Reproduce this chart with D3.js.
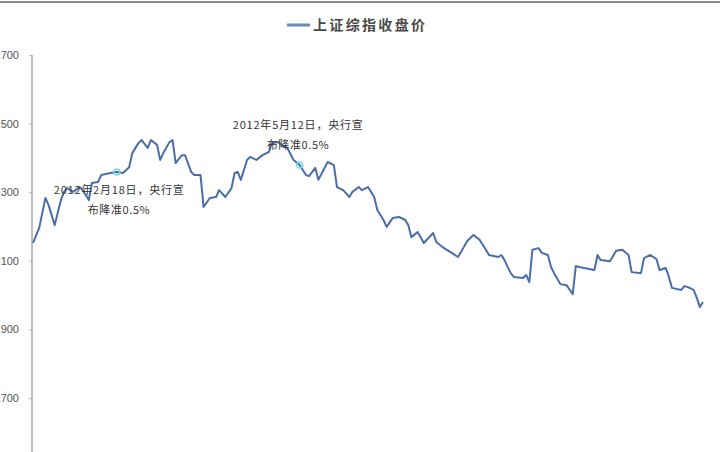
<!DOCTYPE html>
<html>
<head>
<meta charset="utf-8">
<script src="https://cdn.jsdelivr.net/npm/d3@7"></script>
<style>
  html, body { margin: 0; padding: 0; background: #fff; }
  #chart { width: 720px; height: 452px; overflow: hidden; }
  text { font-family: "Liberation Sans", "Noto Sans CJK SC", sans-serif; }
</style>
</head>
<body>
<div id="chart"></div>
<script>
// trading day index since start of series, and close of the index
const days = [0, 2, 4, 5, 7, 9, 10, 11, 13, 15, 16, 18, 19, 21, 22, 25, 27, 29, 31, 32,
  34, 35, 37, 38, 40, 41, 42, 44, 45, 46, 48, 49, 51, 52, 54, 55, 57, 59, 60, 62,
  64, 65, 66, 67, 69, 70, 72, 74, 76, 77, 79, 80, 82, 84, 86, 88, 89, 91, 92, 95,
  97, 98, 100, 102, 103, 105, 106, 108, 110, 111, 113, 114, 116, 118, 120, 121, 122, 124, 126, 129,
  130, 132, 135, 137, 138, 140, 142, 144, 146, 147, 150, 151, 152, 154, 155, 158, 159, 160, 161, 163,
  164, 166, 167, 168, 170, 172, 174, 175, 176, 181, 182, 183, 186, 188, 190, 192, 193, 196, 197, 199,
  201, 202, 204, 205, 206, 209, 210, 211, 213, 214, 215, 216];
const closes = [2152, 2196, 2283, 2263, 2204, 2277, 2301, 2312, 2301, 2315, 2306, 2277, 2327, 2330, 2350, 2356, 2359, 2356, 2373, 2414,
  2443, 2452, 2429, 2452, 2438, 2394, 2414, 2446, 2452, 2385, 2408, 2408, 2359, 2350, 2350, 2257, 2283, 2286, 2306, 2286,
  2312, 2356, 2359, 2336, 2394, 2403, 2394, 2408, 2417, 2443, 2446, 2438, 2429, 2394, 2379, 2350, 2347, 2371, 2336, 2388,
  2379, 2315, 2306, 2286, 2301, 2315, 2306, 2315, 2286, 2248, 2219, 2199, 2225, 2228, 2219, 2204, 2169, 2184, 2152, 2181,
  2155, 2140, 2123, 2111, 2126, 2158, 2175, 2161, 2132, 2117, 2111, 2117, 2102, 2064, 2053, 2050, 2059, 2038, 2132, 2137,
  2123, 2117, 2082, 2064, 2032, 2029, 2003, 2085, 2082, 2073, 2117, 2102, 2099, 2129, 2132, 2117, 2067, 2064, 2108, 2117,
  2105, 2073, 2079, 2053, 2021, 2015, 2026, 2024, 2015, 1992, 1965, 1980];
const yTicks = [2700, 2500, 2300, 2100, 1900, 1700];
const seriesName = '上证综指收盘价';
const noteDays = [27, 86];
const noteLines = [
  ['2012年2月18日，央行宣', '布降准0.5%'],
  ['2012年5月12日，央行宣', '布降准0.5%']
];

const width = 720;
const height = 452;
const lineColor = '#4a6ea8';

const svg = d3.select('#chart')
  .append('svg')
  .attr('width', width)
  .attr('height', height);

// grey frame edge at the top
svg.append('rect')
  .attr('x', 0).attr('y', 1)
  .attr('width', width).attr('height', 2)
  .attr('fill', '#8c8c8c');

const x = d3.scaleLinear().domain([0, 216]).range([33, 703]);
const y = d3.scaleLinear().domain([1700, 2700]).range([398, 55]);

const axis = svg.append('g')
  .attr('transform', 'translate(32,0)')
  .call(d3.axisLeft(y).tickValues(yTicks).tickSize(3).tickPadding(10).tickFormat(d3.format('d')));
axis.select('.domain').remove();
axis.selectAll('.tick line').attr('stroke', '#bbb');
axis.selectAll('.tick text')
  .attr('fill', '#555')
  .style('font-size', '11px');

svg.append('line')
  .attr('x1', 32).attr('x2', 32)
  .attr('y1', y(2700)).attr('y2', height)
  .attr('stroke', '#a8a8a8')
  .attr('stroke-width', 1.5);

const points = days.map((d, i) => ({ day: d, close: closes[i] }));

const line = d3.line()
  .x(d => x(d.day))
  .y(d => y(d.close));

svg.append('path')
  .datum(points)
  .attr('fill', 'none')
  .attr('stroke', lineColor)
  .attr('stroke-width', 2)
  .attr('stroke-linejoin', 'round')
  .attr('d', line);

// annotation markers and labels
const noteOffsets = [{ dx: 2, dy: 22 }, { dx: -2, dy: -36 }];
noteDays.forEach((day, i) => {
  const p = points.find(d => d.day === day);
  const px = x(p.day);
  const py = y(p.close);
  svg.append('circle')
    .attr('cx', px).attr('cy', py)
    .attr('r', 3)
    .attr('fill', 'none')
    .attr('stroke', '#7fd3e6')
    .attr('stroke-width', 1.5);
  noteLines[i].forEach((t, j) => {
    svg.append('text')
      .attr('x', px + noteOffsets[i].dx)
      .attr('y', py + noteOffsets[i].dy + j * 20)
      .attr('text-anchor', 'middle')
      .attr('fill', '#333')
      .style('font-family', '"Noto Sans CJK SC", sans-serif')
      .style('font-size', '11px')
      .attr('textLength', j === 0 ? 130 : 62)
      .attr('lengthAdjust', 'spacing')
      .text(t);
  });
});

// legend
const legend = svg.append('g').attr('transform', 'translate(287,25)');
legend.append('line')
  .attr('x1', 0).attr('x2', 23)
  .attr('stroke', '#6a8bb4')
  .attr('stroke-width', 3);
legend.append('text')
  .attr('x', 26).attr('y', 5)
  .attr('fill', '#4a4a4a')
  .style('font-family', '"Noto Sans CJK SC", sans-serif')
  .style('font-size', '14px')
  .style('font-weight', 'bold')
  .attr('textLength', 112)
  .attr('lengthAdjust', 'spacing')
  .text(seriesName);
</script>
</body>
</html>
